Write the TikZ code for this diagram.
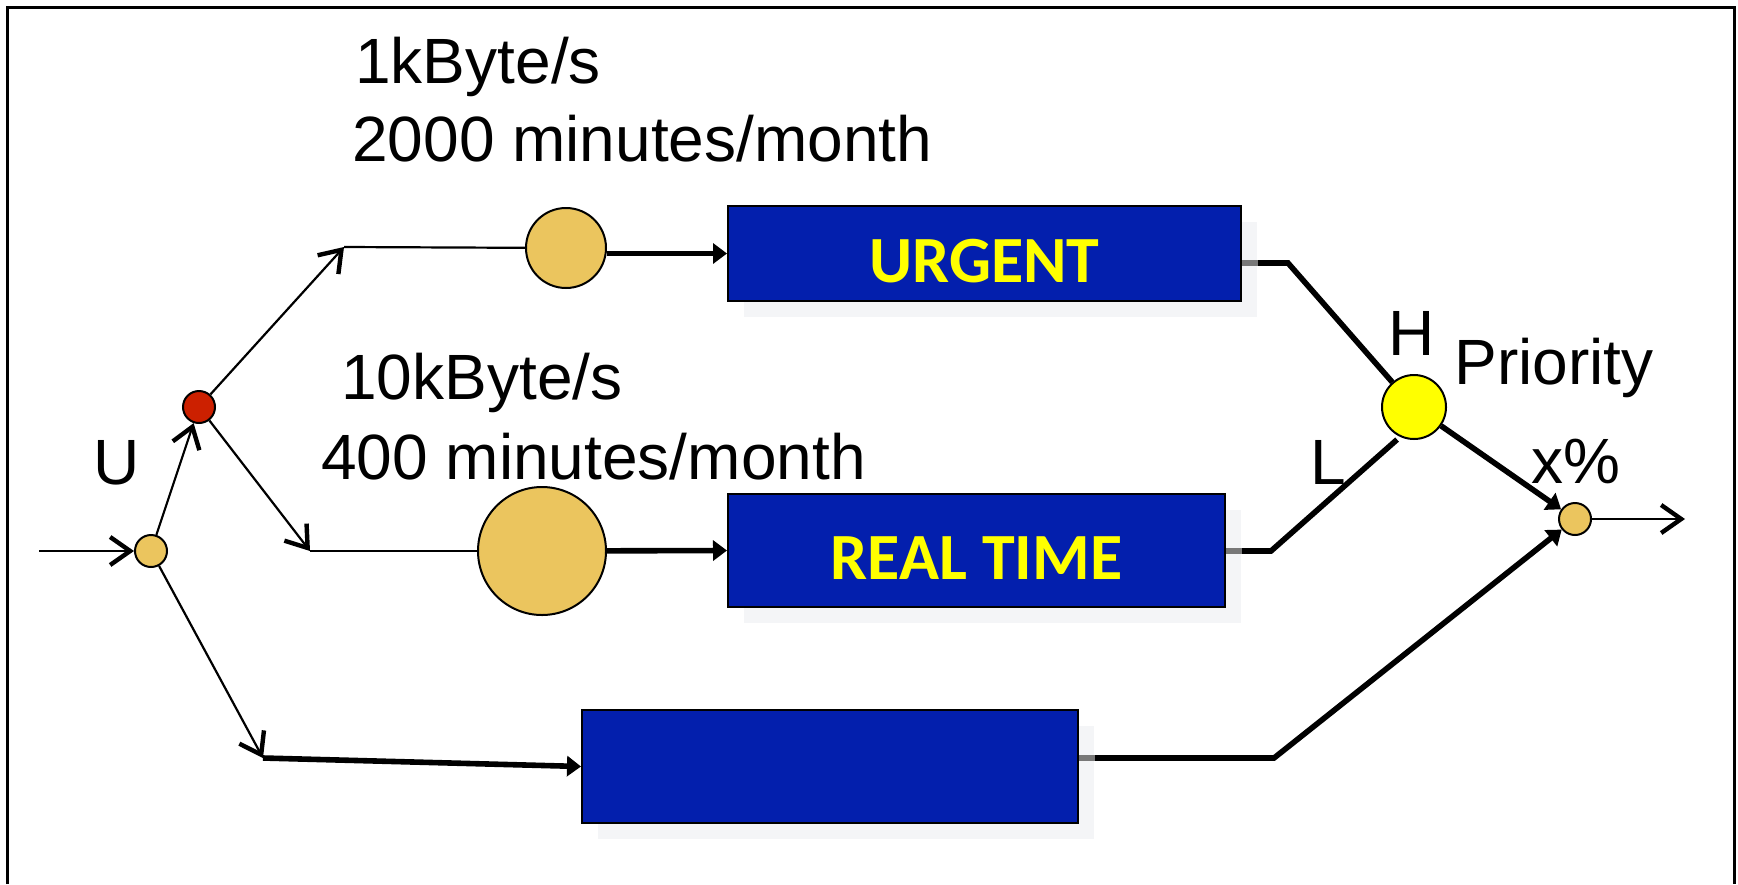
\documentclass[tikz,border=0pt]{standalone}
\usepackage{fontspec}
\setmainfont{Liberation Sans}
\newfontfamily\boxfont{Carlito}
\usetikzlibrary{arrows.meta,shadows}

\definecolor{boxblue}{RGB}{3,31,173}
\definecolor{dotorange}{RGB}{235,197,94}
\definecolor{dotred}{RGB}{204,32,0}
\definecolor{prioyellow}{RGB}{255,255,0}
\definecolor{shadowgray}{RGB}{244,245,247}
\definecolor{stubgray}{RGB}{120,120,120}

\tikzset{
  wire/.style={line width=1.1pt, draw=black},
  heavy/.style={line width=2.8pt, draw=black},
  openhead/.style={-{Straight Barb[length=10pt,width=14pt,line width=2.2pt]}},
  fillhead/.style={-{Triangle[length=7pt,width=10pt]}},
  stub/.style={line width=2.8pt, draw=stubgray},
  dot/.style={circle, draw=black, line width=1pt, fill=dotorange, inner sep=0pt},
  qbox/.style={rectangle, draw=black, line width=1pt, fill=boxblue, inner sep=0pt,
    text=prioyellow, text height=29pt, text depth=0pt,
    font=\boxfont\bfseries\fontsize{33pt}{40pt}\selectfont,
    general shadow={fill=shadowgray, shadow xshift=8pt, shadow yshift=-8pt}},
  lbl/.style={font=\fontsize{32pt}{38pt}\selectfont, inner sep=0pt, anchor=base west},
}

\begin{document}
\begin{tikzpicture}[x=0.5pt, y=-0.5pt]
\useasboundingbox (0,0) rectangle (1738,884);
% frame
\draw[line width=1.5pt] (7,884) -- (7,7) -- (1734,7) -- (1734,884);

% splitting points and queues
\node[dot, minimum size=16pt] (c1) at (151,551) {};
\node[dot, fill=dotred, minimum size=16pt] (c2) at (199,407) {};
\node[dot, minimum size=40pt] (qa) at (566,248) {};
\node[dot, minimum size=64pt] (qb) at (542,551) {};

% service boxes
\node[qbox, minimum width=256.5pt, minimum height=47.5pt] (urgent) at (984.5,253.5) {URGENT};
\node[qbox, minimum width=248.5pt, minimum height=56.5pt] (rt) at (976.5,550.5) {REAL TIME};
\node[qbox, minimum width=248pt, minimum height=56.5pt] (bottom) at (830,766.5) {};

% priority multiplexer and output point
\node[dot, fill=prioyellow, minimum size=32pt] (Y) at (1414,407) {};
\node[dot, minimum size=16pt] (D) at (1575,519) {};

% bend points
\coordinate (src) at (39,551);
\coordinate (a1) at (344,247);
\coordinate (b1) at (310,551);
\coordinate (d1) at (263,758);
\coordinate (hU) at (1288,263);
\coordinate (hR) at (1271,551);
\coordinate (hB) at (1274,758);
\coordinate (out) at (1685,519);

% labels
\node[lbl] (t1) at (355,83) {1kByte/s};
\node[lbl] (t2) at (352,161) {2000 minutes/month};
\node[lbl] (t3) at (341,399) {10kByte/s};
\node[lbl] (t4) at (321,479) {400 minutes/month};
\node[lbl] (lu) at (93,484) {U};
\node[lbl, anchor=base] (lh) at (1412,355) {H};
\node[lbl] (lp) at (1454,384) {Priority};
\node[lbl] (ll) at (1310,484) {L};
\node[lbl] (lx) at (1531,483) {x\%};

% input side
\draw[wire, openhead] (src) -- (c1);
\draw[wire, openhead] (c1) -- (c2);
\draw[wire, openhead] (c2) -- (a1);
\draw[wire] (a1) -- (qa);
\draw[wire, openhead] (c2) -- (b1);
\draw[wire] (b1) -- (qb);
\draw[wire, openhead] (c1) -- (d1);
\draw[heavy, fillhead] (d1) -- (bottom.west);
\draw[heavy, fillhead] (urgent.west -| qa.east) -- (urgent.west);
\draw[heavy, fillhead] (qb) -- (rt.west);

% output side
\draw[heavy] (urgent.east |- hU) -- (hU) -- (Y);
\draw[stub] (urgent.east |- hU) -- ++(16,0);
\draw[heavy, shorten >=2pt] (rt.east |- hR) -- (hR) -- (Y.245);
\draw[stub] (rt.east |- hR) -- ++(16,0);
\draw[heavy, fillhead] (bottom.east |- hB) -- (hB) -- (D);
\draw[stub] (bottom.east |- hB) -- ++(16,0);
\draw[heavy, fillhead] (Y) -- (D);
\draw[wire, openhead] (D) -- (out);
\end{tikzpicture}
\end{document}
